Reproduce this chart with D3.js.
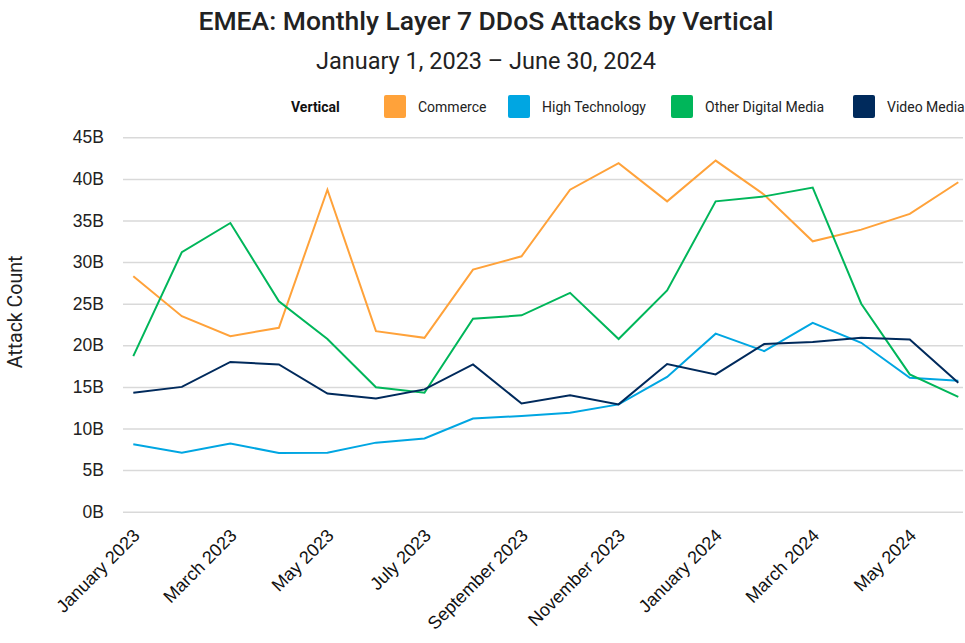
<!DOCTYPE html>
<html><head><meta charset="utf-8">
<script src="https://cdn.jsdelivr.net/npm/d3@7"></script>
<style>
body{margin:0;background:#fff;}
svg{display:block;}
</style></head>
<body>
<svg id="chart" width="965" height="643"></svg>
<script>
const months = ["January 2023","February 2023","March 2023","April 2023","May 2023","June 2023","July 2023","August 2023","September 2023","October 2023","November 2023","December 2023","January 2024","February 2024","March 2024","April 2024","May 2024","June 2024"];
const tickLabels = ["January 2023","March 2023","May 2023","July 2023","September 2023","November 2023","January 2024","March 2024","May 2024"];
const yTicks = [0,5,10,15,20,25,30,35,40,45];
const seriesNames = ["Commerce","High Technology","Other Digital Media","Video Media"];
const seriesColors = ["#FFA23A","#00A6E2","#00B65A","#002A5C"];
const commerce = [28.3,23.5,21.1,22.1,38.7,21.7,20.9,29.1,30.7,38.7,41.9,37.3,42.2,38.1,32.5,33.9,35.8,39.6];
const highTech = [8.1,7.1,8.2,7.05,7.1,8.3,8.8,11.2,11.5,11.9,12.9,16.2,21.4,19.3,22.7,20.3,16.1,15.75];
const otherDigital = [18.7,31.2,34.7,25.3,20.75,14.95,14.3,23.2,23.6,26.3,20.75,26.6,37.3,37.9,38.95,25.0,16.5,13.8];
const videoMedia = [14.3,15.0,18.0,17.7,14.2,13.6,14.7,17.7,13.0,14.0,12.9,17.75,16.5,20.15,20.4,20.9,20.7,15.5];
const seriesValues = [commerce, highTech, otherDigital, videoMedia];

const svg = d3.select("#chart");
const x = d3.scalePoint().domain(months).range([133.3, 958.3]);
const y = d3.scaleLinear().domain([0,45]).range([511.7, 137.3]);

// Title
svg.append("text").attr("x",486).attr("y",30).attr("text-anchor","middle")
  .style("font-family","Roboto").style("font-weight","500").style("font-size","26.5px").style("fill","#222")
  .text("EMEA: Monthly Layer 7 DDoS Attacks by Vertical");
svg.append("text").attr("x",486).attr("y",69).attr("text-anchor","middle")
  .style("font-family","Roboto").style("font-size","23.5px").style("fill","#222")
  .text("January 1, 2023 – June 30, 2024");

// Legend
const lg = svg.append("g");
lg.append("text").attr("x",291).attr("y",112).style("font-family","Roboto").style("font-weight","bold")
  .style("font-size","14px").style("fill","#111").text("Vertical");
const legX = [384,508,671,853];
seriesNames.forEach((n,i)=>{
  lg.append("rect").attr("x",legX[i]).attr("y",95).attr("width",22).attr("height",23).attr("rx",2)
    .attr("fill",seriesColors[i]);
  lg.append("text").attr("x",legX[i]+34).attr("y",112).style("font-family","Roboto")
    .style("font-size","14px").style("fill","#222").text(n);
});

// Grid + y axis
const yAxis = d3.axisLeft(y).tickValues(yTicks).tickFormat(d=>d+"B").tickSize(-(963-123)).tickPadding(19);
const gy = svg.append("g").attr("transform","translate(123,0)").call(yAxis);
gy.select(".domain").remove();
gy.selectAll(".tick line").attr("stroke","#d9d9d9").attr("stroke-width",1.5);
gy.selectAll(".tick text").style("font-family","Liberation Sans, Arial").style("font-size","17.5px").style("fill","#222");

svg.append("text").attr("transform","translate(22,312) rotate(-90)").attr("text-anchor","middle")
  .style("font-family","Roboto").style("font-size","19.5px").style("fill","#222").text("Attack Count");

// X axis
const xAxis = d3.axisBottom(x).tickValues(tickLabels).tickSize(0).tickPadding(0);
const gx = svg.append("g").attr("transform","translate(0,511.7)").call(xAxis);
gx.select(".domain").remove();
gx.selectAll(".tick text")
  .attr("text-anchor","end").attr("dy",0).attr("y",0)
  .attr("transform","translate(7,25) rotate(-45)")
  .style("font-family","Liberation Sans, Arial").style("font-size","18px").style("fill","#111");

// Lines
const line = d3.line().x((d,i)=>x(months[i])).y(d=>y(d));
seriesValues.forEach((vals,i)=>{
  svg.append("path").datum(vals).attr("d",line).attr("fill","none")
    .attr("stroke",seriesColors[i]).attr("stroke-width",2).attr("stroke-linejoin","miter");
});
</script>
</body></html>
